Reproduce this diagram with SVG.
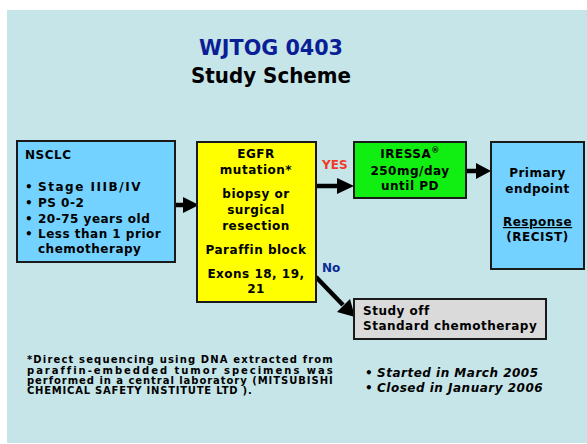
<svg xmlns="http://www.w3.org/2000/svg" width="587" height="444" viewBox="0 0 587 444">
<style>
  text { font-family: "DejaVu Sans", Verdana, sans-serif; font-weight: bold; fill: #000; }
  .t { font-size: 12px; letter-spacing: 0.5px; }
  .c { text-anchor: middle; }
  .box { stroke: #1a1a1a; stroke-width: 2; }
  .conn line { stroke: #000; stroke-width: 4.5; }
  .conn polygon { fill: #000; }
  .fn { font-size: 10px; letter-spacing: 0.3px; }
  .it { font-style: italic; font-size: 12px; letter-spacing: 0.5px; }
  .lbl { font-size: 12px; }
</style>
<rect x="7" y="10" width="580" height="433" fill="#C6E5E9"/>
<g id="title">
  <text x="271" y="55" class="c" font-size="21" textLength="144" lengthAdjust="spacingAndGlyphs" style="fill:#0A1E96">WJTOG 0403</text>
  <text x="271" y="83" class="c" font-size="21" textLength="160" lengthAdjust="spacingAndGlyphs">Study Scheme</text>
</g>
<g class="conn" id="connectors">
  <line x1="175" y1="205" x2="184" y2="205"/>
  <polygon points="183,197 199,205 183,213"/>
  <line x1="316" y1="186" x2="338" y2="186"/>
  <polygon points="337,178 354,186 337,194"/>
  <line x1="466" y1="171" x2="477" y2="171"/>
  <polygon points="476,163 491,171 476,179"/>
  <line x1="316" y1="277" x2="343" y2="305"/>
  <polygon points="337,312 350,299 355,317"/>
</g>
<g id="nsclc">
  <rect class="box" x="17" y="141" width="158" height="121" fill="#73D2FF"/>
  <text class="t" x="25" y="159">NSCLC</text>
  <text class="t" x="25" y="191">•</text><text class="t" x="38" y="191" textLength="103">Stage IIIB/IV</text>
  <text class="t" x="25" y="207">•</text><text class="t" x="38" y="207">PS 0-2</text>
  <text class="t" x="25" y="223">•</text><text class="t" x="38" y="223">20-75 years old</text>
  <text class="t" x="25" y="238">•</text><text class="t" x="38" y="238">Less than 1 prior</text>
  <text class="t" x="38" y="253">chemotherapy</text>
</g>
<g id="egfr">
  <rect class="box" x="197" y="142" width="119" height="160" fill="#FFFF00"/>
  <text class="t c" x="256" y="158">EGFR</text>
  <text class="t c" x="256" y="174">mutation*</text>
  <text class="t c" x="256" y="198">biopsy or</text>
  <text class="t c" x="256" y="214">surgical</text>
  <text class="t c" x="256" y="230">resection</text>
  <text class="t c" x="256" y="254">Paraffin block</text>
  <text class="t c" x="256" y="278">Exons 18, 19,</text>
  <text class="t c" x="256" y="293">21</text>
</g>
<g id="labels">
  <text class="lbl" x="322" y="169" style="fill:#F23A2A">YES</text>
  <text class="lbl" x="322" y="272" style="fill:#0A2A96">No</text>
</g>
<g id="iressa">
  <rect class="box" x="354" y="142" width="112" height="56" fill="#11EE11"/>
  <text class="t c" x="410" y="158">IRESSA<tspan font-size="8" dy="-5">®</tspan></text>
  <text class="t c" x="410" y="175">250mg/day</text>
  <text class="t c" x="410" y="190">until PD</text>
</g>
<g id="endpoint">
  <rect class="box" x="491" y="142" width="93" height="127" fill="#73D2FF"/>
  <text class="t c" x="537.5" y="177">Primary</text>
  <text class="t c" x="537.5" y="193">endpoint</text>
  <text class="t c" x="537.5" y="226" text-decoration="underline">Response</text>
  <text class="t c" x="537.5" y="241">(RECIST)</text>
</g>
<g id="studyoff">
  <rect class="box" x="354" y="299" width="192" height="40" fill="#DADADA"/>
  <text class="t" x="363" y="315">Study off</text>
  <text class="t" x="363" y="330">Standard chemotherapy</text>
</g>
<g id="footnote">
  <text class="fn" x="27" y="363" textLength="306" lengthAdjust="spacing">*Direct sequencing using DNA extracted from</text>
  <text class="fn" x="27" y="374" textLength="306" lengthAdjust="spacing">paraffin-embedded tumor specimens  was</text>
  <text class="fn" x="27" y="384" textLength="306" lengthAdjust="spacing">performed in a central laboratory (MITSUBISHI</text>
  <text class="fn" x="27" y="394" textLength="225" lengthAdjust="spacing">CHEMICAL SAFETY INSTITUTE LTD ).</text>
</g>
<g id="dates">
  <text class="t" x="365" y="377">•</text><text class="it" x="377" y="377">Started in March 2005</text>
  <text class="t" x="365" y="392">•</text><text class="it" x="377" y="392">Closed in January 2006</text>
</g>
</svg>
